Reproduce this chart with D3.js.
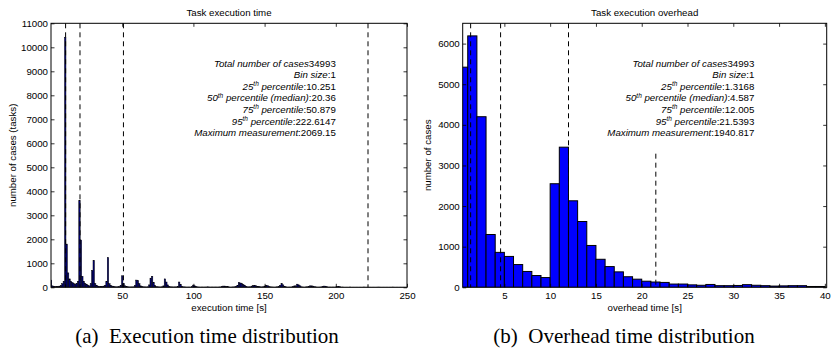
<!DOCTYPE html>
<html>
<head>
<meta charset="utf-8">
<script src="https://cdn.jsdelivr.net/npm/d3@7"></script>
<style>
  html, body { margin: 0; padding: 0; background: #fff; }
  svg { display: block; }
  .ax text { font-family: "Liberation Sans", Arial, Helvetica, sans-serif; font-size: 9.7px; fill: #000; }
  .ax line { stroke: #000; stroke-width: 0.8; }
  .lbl { font-family: "Liberation Sans", Arial, Helvetica, sans-serif; font-size: 9.7px; fill: #000; }
  .cap { font-family: "Liberation Serif", "Times New Roman", serif; font-size: 21px; fill: #000; }
</style>
</head>
<body>
<script>
// Execution time histogram: counts per 1 s bin, bin i centred at i seconds (0..249)
const execCounts = [
  300, 60, 35, 30, 30, 35, 50, 80, 150, 250,
  10420, 1800, 600, 350, 250, 200, 150, 130, 150, 250,
  3620, 1970, 460, 250, 160, 120, 90, 60, 150, 700,
  1120, 150, 80, 50, 40, 40, 40, 50, 80, 250,
  1240, 150, 80, 50, 30, 20, 20, 20, 30, 80,
  480, 150, 60, 30, 20, 15, 15, 15, 20, 80,
  300, 280, 150, 60, 30, 20, 15, 15, 20, 100,
  380, 460, 200, 80, 30, 20, 15, 15, 20, 60,
  350, 220, 100, 40, 20, 15, 15, 15, 15, 40,
  220, 120, 40, 20, 15, 10, 10, 10, 10, 30,
  90, 60, 30, 15, 10, 10, 10, 10, 10, 10,
  20, 10, 10, 10, 10, 10, 10, 10, 10, 15,
  30, 50, 50, 40, 30, 15, 10, 10, 15, 20,
  40, 80, 200, 180, 150, 120, 80, 40, 20, 15,
  20, 50, 70, 80, 60, 40, 30, 20, 15, 20,
  50, 80, 70, 40, 20, 15, 10, 10, 10, 20,
  40, 80, 150, 100, 40, 20, 10, 10, 10, 15,
  30, 60, 60, 130, 100, 60, 20, 10, 10, 15,
  20, 40, 60, 60, 50, 30, 15, 10, 10, 10,
  20, 40, 50, 40, 20, 10, 10, 10, 10, 10,
  15, 30, 40, 20, 10, 10, 5, 5, 5, 5,
  10, 5, 5, 5, 5, 5, 5, 5, 5, 5,
  10, 5, 5, 5, 5, 5, 5, 5, 5, 5,
  10, 5, 5, 5, 5, 5, 5, 5, 5, 5,
  10, 5, 5, 5, 5, 5, 5, 5, 5, 5
];
// Overhead histogram: counts per 1 s bin, bin i spans [i, i+1) seconds (0..39)
const overheadCounts = [
  5420, 6190, 4200, 1300, 860, 760, 560, 390, 290, 240,
  2550, 3450, 2130, 1620, 1030, 690, 510, 380, 260, 200,
  150, 130, 120, 80, 80, 60, 50, 70, 40, 40,
  45, 65, 50, 40, 30, 35, 40, 40, 20, 20
];

const execPercentiles = [10.251, 20.36, 50.879, 222.6147];
const execLineTops = [11000, 11000, 11000, 11000];
const overheadPercentiles = [1.3168, 4.587, 12.005, 21.5393];
const overheadLineTops = [6500, 6500, 6500, 3290];

const execXTicks = [50, 100, 150, 200, 250];
const execYTicks = d3.range(0, 11001, 1000);
const overheadXTicks = [5, 10, 15, 20, 25, 30, 35, 40];
const overheadYTicks = d3.range(0, 6001, 1000);

const execStats = [
  { label: "Total number of cases", value: "34993" },
  { label: "Bin size", value: ":1" },
  { ord: "25", label: " percentile", value: ":10.251" },
  { ord: "50", label: " percentile (median)", value: ":20.36" },
  { ord: "75", label: " percentile", value: ":50.879" },
  { ord: "95", label: " percentile", value: ":222.6147" },
  { label: "Maximum measurement", value: ":2069.15" }
];
const overheadStats = [
  { label: "Total number of cases", value: "34993" },
  { label: "Bin size", value: ":1" },
  { ord: "25", label: " percentile", value: ":1.3168" },
  { ord: "50", label: " percentile (median)", value: ":4.587" },
  { ord: "75", label: " percentile", value: ":12.005" },
  { ord: "95", label: " percentile", value: ":21.5393" },
  { label: "Maximum measurement", value: ":1940.817" }
];

const W = 832, H = 353;
const svg = d3.select("body").append("svg")
  .attr("width", W).attr("height", H)
  .attr("viewBox", `0 0 ${W} ${H}`);
svg.append("rect").attr("width", W).attr("height", H).attr("fill", "#fff");

function panel(cfg) {
  const { id, left, right, top, bottom } = cfg;
  const x = d3.scaleLinear().domain(cfg.xDomain).range([left, right]);
  const y = d3.scaleLinear().domain(cfg.yDomain).range([bottom, top]);
  const g = svg.append("g");

  g.append("clipPath").attr("id", id)
    .append("rect").attr("x", left).attr("y", top)
    .attr("width", right - left).attr("height", bottom - top);

  // histogram bars
  g.append("g").attr("clip-path", `url(#${id})`)
    .selectAll("rect").data(cfg.counts).join("rect")
    .attr("x", (d, i) => x(i + cfg.binOffset))
    .attr("width", x(1) - x(0))
    .attr("y", d => y(d))
    .attr("height", d => y(0) - y(d))
    .attr("fill", cfg.fill)
    .attr("stroke", "#000")
    .attr("stroke-width", cfg.barStroke);

  // percentile markers
  g.append("g").selectAll("line").data(cfg.percentiles).join("line")
    .attr("x1", d => x(d)).attr("x2", d => x(d))
    .attr("y1", (d, i) => y(cfg.lineTops[i])).attr("y2", y(0))
    .attr("stroke", "#000").attr("stroke-width", 1)
    .attr("stroke-dasharray", "5,4");

  // axes with inward ticks on all four sides
  const tk = 3.5;
  g.append("g").attr("class", "ax").attr("transform", `translate(0,${bottom})`)
    .call(d3.axisBottom(x).tickValues(cfg.xTicks).tickSize(-tk).tickPadding(5).tickFormat(d3.format("d")))
    .call(s => s.select(".domain").remove());
  g.append("g").attr("class", "ax").attr("transform", `translate(0,${top})`)
    .call(d3.axisTop(x).tickValues(cfg.xTicks).tickSize(-tk).tickFormat(""))
    .call(s => s.select(".domain").remove());
  g.append("g").attr("class", "ax").attr("transform", `translate(${left},0)`)
    .call(d3.axisLeft(y).tickValues(cfg.yTicks).tickSize(-tk).tickPadding(3).tickFormat(d3.format("d")))
    .call(s => s.select(".domain").remove());
  g.append("g").attr("class", "ax").attr("transform", `translate(${right},0)`)
    .call(d3.axisRight(y).tickValues(cfg.yTicks).tickSize(-tk).tickFormat(""))
    .call(s => s.select(".domain").remove());

  g.append("rect").attr("x", left).attr("y", top)
    .attr("width", right - left).attr("height", bottom - top)
    .attr("fill", "none").attr("stroke", "#000").attr("stroke-width", 1);

  const cx = (left + right) / 2;
  g.append("text").attr("class", "lbl").attr("x", cx).attr("y", 16)
    .attr("text-anchor", "middle").text(cfg.title);
  g.append("text").attr("class", "lbl").attr("x", cx).attr("y", 311)
    .attr("text-anchor", "middle").text(cfg.xLabel);
  g.append("text").attr("class", "lbl")
    .attr("transform", `translate(${cfg.yLabelX},${(top + bottom) / 2}) rotate(-90)`)
    .attr("text-anchor", "middle").text(cfg.yLabel);

  // statistics block, right aligned
  const tx = x(cfg.statsX);
  cfg.stats.forEach((s, i) => {
    const t = g.append("text").attr("class", "lbl")
      .attr("x", tx).attr("y", 66.5 + i * 11.6).attr("text-anchor", "end");
    if (s.ord) {
      t.append("tspan").attr("font-style", "italic").text(s.ord);
      t.append("tspan").attr("font-style", "italic").attr("font-size", "6.5px")
        .attr("dy", -3.6).text("th");
      t.append("tspan").attr("font-style", "italic").attr("dy", 3.6).text(s.label);
    } else {
      t.append("tspan").attr("font-style", "italic").text(s.label);
    }
    t.append("tspan").text(s.value);
  });

  svg.append("text").attr("class", "cap").attr("x", cfg.capX).attr("y", 343)
    .attr("text-anchor", "middle").attr("xml:space", "preserve").text(cfg.caption);
}

panel({
  id: "clipExec", left: 51, right: 407, top: 23.3, bottom: 287.3,
  xDomain: [0, 250], yDomain: [0, 11000],
  counts: execCounts, binOffset: -0.5, fill: "#000080", barStroke: 0.5,
  percentiles: execPercentiles, lineTops: execLineTops,
  xTicks: execXTicks, yTicks: execYTicks,
  title: "Task execution time", xLabel: "execution time [s]",
  yLabel: "number of cases (tasks)", yLabelX: 16,
  stats: execStats, statsX: 200,
  caption: "(a)\u00a0\u00a0Execution time distribution", capX: 207
});

panel({
  id: "clipOver", left: 462.7, right: 826.7, top: 23.3, bottom: 287.3,
  xDomain: [0.45, 40.2], yDomain: [0, 6500],
  counts: overheadCounts, binOffset: 0, fill: "#0000ff", barStroke: 1,
  percentiles: overheadPercentiles, lineTops: overheadLineTops,
  xTicks: overheadXTicks, yTicks: overheadYTicks,
  title: "Task execution overhead", xLabel: "overhead time [s]",
  yLabel: "number of cases", yLabelX: 431,
  stats: overheadStats, statsX: 32.3,
  caption: "(b)\u00a0\u00a0Overhead time distribution", capX: 624
});
</script>
</body>
</html>
